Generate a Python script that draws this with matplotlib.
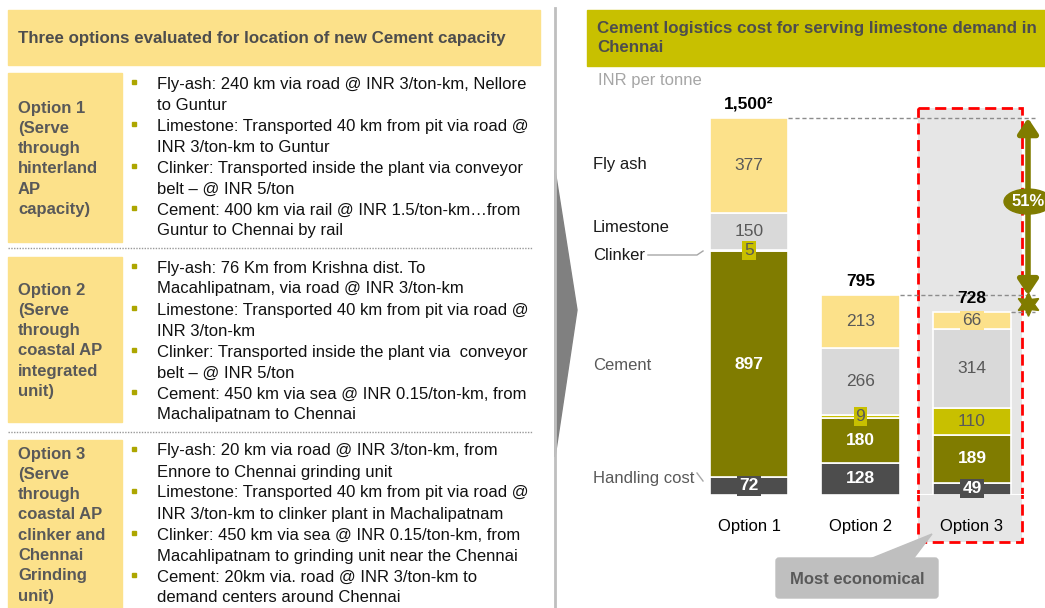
import matplotlib
matplotlib.use("Agg")
import numpy as np
import matplotlib.pyplot as plt
from matplotlib.patches import Rectangle, Polygon, Ellipse, FancyBboxPatch

plt.rcParams['font.family'] = ['Liberation Sans', 'DejaVu Sans']

# ---- data ----
options = ['Option 1', 'Option 2', 'Option 3']
segments = ['Handling cost', 'Cement', 'Clinker', 'Limestone', 'Fly ash']
handling = [72, 128, 49]
cement = [897, 180, 189]
clinker = [5, 9, 110]
limestone = [150, 266, 314]
fly_ash = [377, 213, 66]
totals = [1500, 795, 728]
total_labels = ['1,500\u00b2', '795', '728']
saving_label = '51%'

opt_titles = [
    ['Option 1', '(Serve', 'through', 'hinterland', 'AP', 'capacity)'],
    ['Option 2', '(Serve', 'through', 'coastal AP', 'integrated', 'unit)'],
    ['Option 3', '(Serve', 'through', 'coastal AP', 'clinker and', 'Chennai', 'Grinding', 'unit)'],
]
opt_bullets = [
    [['Fly-ash: 240 km via road @ INR 3/ton-km, Nellore', 'to Guntur'],
     ['Limestone: Transported 40 km from pit via road @', 'INR 3/ton-km to Guntur'],
     ['Clinker: Transported inside the plant via conveyor', 'belt \u2013 @ INR 5/ton'],
     ['Cement: 400 km via rail @ INR 1.5/ton-km\u2026from', 'Guntur to Chennai by rail']],
    [['Fly-ash: 76 Km from Krishna dist. To', 'Macahlipatnam, via road @ INR 3/ton-km'],
     ['Limestone: Transported 40 km from pit via road @', 'INR 3/ton-km'],
     ['Clinker: Transported inside the plant via  conveyor', 'belt \u2013 @ INR 5/ton'],
     ['Cement: 450 km via sea @ INR 0.15/ton-km, from', 'Machalipatnam to Chennai']],
    [['Fly-ash: 20 km via road @ INR 3/ton-km, from', 'Ennore to Chennai grinding unit'],
     ['Limestone: Transported 40 km from pit via road @', 'INR 3/ton-km to clinker plant in Machalipatnam'],
     ['Clinker: 450 km via sea @ INR 0.15/ton-km, from', 'Macahlipatnam to grinding unit near the Chennai'],
     ['Cement: 20km via. road @ INR 3/ton-km to', 'demand centers around Chennai']],
]

# ---- colours ----
c_fly = '#FCE18A'
c_lime = '#D9D9D9'
c_clink = '#C8C000'
c_cem = '#807C00'
c_hand = '#4D4D4D'
c_txt = '#4D4D4D'
seg_colors = [c_hand, c_cem, c_clink, c_lime, c_fly]

W, H = 1045, 608
fig = plt.figure(figsize=(W / 100, H / 100), dpi=100)
bg = fig.add_axes([0, 0, 1, 1])
bg.set_xlim(0, W)
bg.set_ylim(H, 0)
bg.axis('off')

# ---- left panel ----
bg.add_patch(Rectangle((8, 10), 532, 55, color=c_fly))
bg.text(18, 38, 'Three options evaluated for location of new Cement capacity',
        fontsize=12.2, fontweight='bold', color=c_txt, va='center')

box_tops = [73, 257, 440]
box_bots = [242, 422, 608]
title_y0 = [108, 290, 454]
bullet_y0 = [84, 268, 451]
for i in range(3):
    bg.add_patch(Rectangle((8, box_tops[i]), 114, box_bots[i] - box_tops[i], color=c_fly))
    for j, t in enumerate(opt_titles[i]):
        bg.text(18, title_y0[i] + j * 20.3, t, fontsize=12, fontweight='bold',
                color='#595959', va='center')
    k = 0
    for b in opt_bullets[i]:
        bg.plot(134, bullet_y0[i] + k * 21 - 2, 's', ms=3, color='#ADA600')
        for line in b:
            bg.text(157, bullet_y0[i] + k * 21, line, fontsize=12, color='#111111', va='center')
            k += 1
for y in [248, 432]:
    bg.plot([8, 532], [y, y], ls=(0, (1, 1)), color='#999999', lw=1)

# separator line and chevron
bg.plot([555, 555], [8, 608], color='#BFBFBF', lw=2)
bg.add_patch(Polygon([(555, 170), (577, 310), (555, 457)], closed=True, color='#808080'))

# ---- right panel ----
bg.add_patch(Rectangle((587, 10), 458, 56, color=c_clink))
bg.text(597, 28, 'Cement logistics cost for serving limestone demand in', fontsize=12.2,
        fontweight='bold', color=c_txt, va='center')
bg.text(597, 48, 'Chennai', fontsize=12.2, fontweight='bold', color=c_txt, va='center')
bg.text(598, 81, 'INR per tonne', fontsize=12, color='#A6A6A6', va='center')

# highlight of option 3
bg.add_patch(Rectangle((918, 108), 104, 434, facecolor='#E6E6E6', edgecolor='none'))
bg.add_patch(Rectangle((918, 108), 104, 434, fill=False, edgecolor='#FF0000', lw=2,
                       ls=(0, (4, 2))))

# segment names on the left
seg_label_y = {'Fly ash': 165, 'Limestone': 228, 'Clinker': 255, 'Cement': 365, 'Handling cost': 478}
seg_label_c = {'Fly ash': '#1a1a1a', 'Limestone': '#1a1a1a', 'Clinker': '#1a1a1a',
               'Cement': '#595959', 'Handling cost': '#595959'}
for s in segments:
    bg.text(593, seg_label_y[s], s, fontsize=12, color=seg_label_c[s], va='center')
bg.plot([648, 697, 703], [255, 255, 251], color='#A6A6A6', lw=1)
bg.plot([697, 703], [473, 481], color='#A6A6A6', lw=1)

# callout
bg.add_patch(FancyBboxPatch((779, 561), 156, 34, boxstyle='round,pad=3', color='#BFBFBF'))
bg.add_patch(Polygon([(870, 559), (932, 534), (913, 559)], closed=True, color='#BFBFBF'))
bg.text(857, 580, 'Most economical', fontsize=12, fontweight='bold', color='#595959',
        ha='center', va='center')

# ---- stacked bars ----
c0, step = 749, 111.5
ax_l, ax_r, ax_t, ax_b = 690, 1040, 118, 495
ax = fig.add_axes([ax_l / W, (H - ax_b) / H, (ax_r - ax_l) / W, (ax_b - ax_t) / H])
ax.set_xlim((ax_l - c0) / step, (ax_r - c0) / step)
ax.set_ylim(0, 1500)
ax.axis('off')
ax.patch.set_alpha(0)

x = np.arange(len(options))
data = [handling, cement, clinker, limestone, fly_ash]
bottom = np.zeros(len(options))
bw = 0.70
ax.axhline(0, color='white', lw=1.5, zorder=1)
for s, vals, col in zip(segments, data, seg_colors):
    vals = np.array(vals, dtype=float)
    ax.bar(x, vals, bottom=bottom, width=bw, color=col, edgecolor='white', lw=1.2, zorder=2)
    for xi, v, b in zip(x, vals, bottom):
        white = s in ('Cement', 'Handling cost')
        kw = dict(ha='center', va='center', fontsize=12.5, zorder=4,
                  color='white' if white else '#595959',
                  fontweight='bold' if white else 'normal')
        if v < 75:
            kw['bbox'] = dict(boxstyle='square,pad=0.12', facecolor=col, edgecolor='none')
        ax.text(xi, b + v / 2, f'{v:.0f}', **kw)
    bottom += vals

for xi, t, lab in zip(x, bottom, total_labels):
    ax.text(xi, t + 25, lab, ha='center', va='bottom', fontsize=12.5, fontweight='bold',
            color='black', zorder=4)
    ax.text(xi, -125, options[xi], ha='center', va='center', fontsize=12, color='black')

# dashed reference lines from each bar top
xr = (1035 - c0) / step
for xi, t in zip(x, totals):
    ax.plot([xi + bw / 2, xr], [t, t], ls=(0, (3, 2)), color='#8C8C8C', lw=1, zorder=3,
            clip_on=False)

# saving arrow
xa = (1028 - c0) / step
ax.annotate('', xy=(xa, totals[0]), xytext=(xa, totals[1]),
            arrowprops=dict(arrowstyle='<|-|>,head_length=0.9,head_width=0.6',
                            color=c_cem, lw=4, shrinkA=0, shrinkB=0), zorder=5)
mid = (totals[0] + totals[1]) / 2
ax.add_patch(Ellipse((xa, mid + 20), 48 / step, 25 * 1500 / 377, color=c_cem, zorder=6,
                     clip_on=False))
ax.text(xa, mid + 20, saving_label, ha='center', va='center', fontsize=12,
        fontweight='bold', color='white', zorder=7, clip_on=False)
ax.plot(xa, (totals[1] + totals[2]) / 2, marker=(6, 1, 0), ms=17, color=c_cem, zorder=6,
        clip_on=False)

fig.savefig('out.png', dpi=100)
